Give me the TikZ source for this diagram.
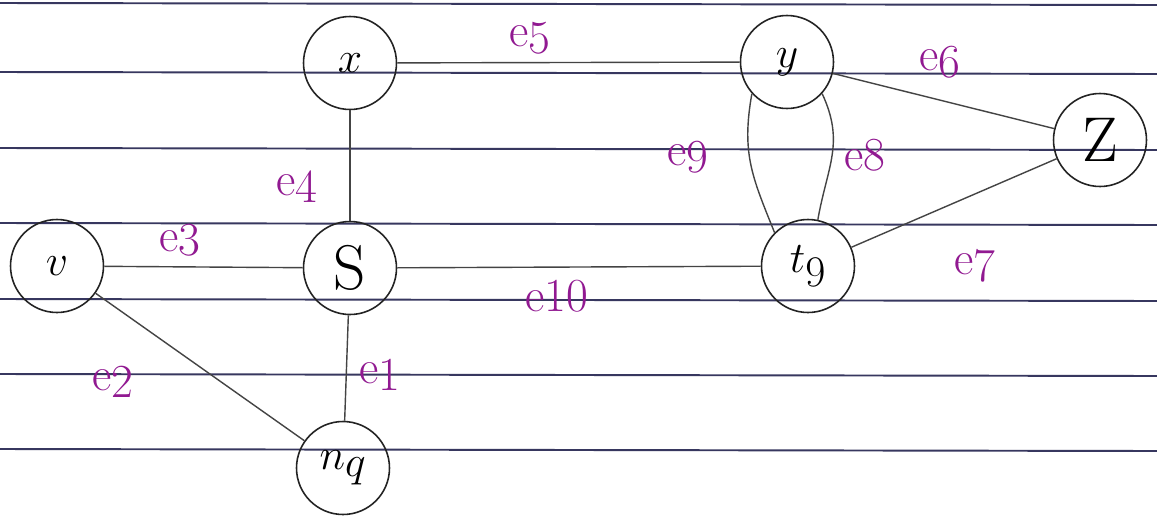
\documentclass[tikz,border=0pt]{standalone}
\usepackage{xcolor}
\definecolor{ink}{RGB}{35,35,35}
\definecolor{rule}{RGB}{55,55,95}
\definecolor{lab}{RGB}{145,25,145}
\begin{document}
\begin{tikzpicture}[x=0.02cm,y=-0.02cm,
  vert/.style={circle,draw=ink,line width=0.9pt,minimum size=1.86cm,inner sep=0pt,font=\fontsize{36}{38}\selectfont},
  edge/.style={draw=ink!85,line width=0.8pt},
  elab/.style={text=lab,font=\fontsize{27}{29}\selectfont,inner sep=0pt},
  ruled/.style={draw=rule,line width=1.1pt}]
\useasboundingbox (0,0) rectangle (1157,518);
\fill[white] (0,0) rectangle (1157,518);
% ruled paper
\foreach \yy in {3,72,148,223,299,374,449}{
  \draw[ruled] (0,\yy) -- (1157,\yy+2);
}
% vertices
\node[vert] (x) at (350,63) {$x$};
\node[vert] (y) at (787,62) {$y$};
\node[vert] (z) at (1100,140) {Z};
\node[vert] (v) at (57,266) {$v$};
\node[vert] (s) at (350,268) {S};
\node[vert] (t) at (808,266) {$t_9$};
\node[vert] (n) at (343,468) {$n_q$};
% edges
\draw[edge] (x) -- (y);
\draw[edge] (y) -- (z);
\draw[edge] (t) -- (z);
\draw[edge] (x) -- (s);
\draw[edge] (v) -- (s);
\draw[edge] (s) -- (t);
\draw[edge] (s) -- (n);
\draw[edge] (v) -- (n);
\draw[edge] (y.222) to[out=260,in=112,looseness=1.1] (t.135);
\draw[edge] (y.318) to[out=295,in=80,looseness=1.1] (t.78);
% edge labels
\node[elab] (l5) at (530,38) {e\lower4pt\hbox{5}};
\node[elab] (l6) at (940,62) {e\lower4pt\hbox{6}};
\node[elab] (l9) at (688,157) {e\lower4pt\hbox{9}};
\node[elab] (l8) at (865,155) {e8};
\node[elab] (l4) at (297,187) {e\lower4pt\hbox{4}};
\node[elab] (l3) at (180,240) {e\lower2pt\hbox{3}};
\node[elab] (l7) at (975,266) {e\lower4pt\hbox{7}};
\node[elab] (l10) at (557,296) {e10};
\node[elab] (l1) at (380,375) {e\lower4pt\hbox{1}};
\node[elab] (l2) at (113,382) {e\lower4pt\hbox{2}};
\end{tikzpicture}
\end{document}
